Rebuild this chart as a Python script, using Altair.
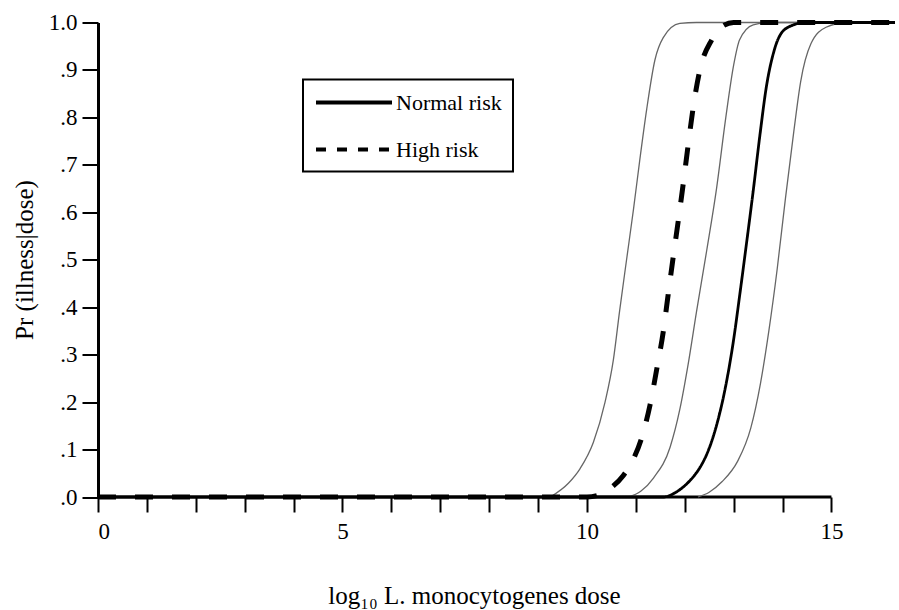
import altair as alt
import pandas as pd

# ---------------- values ----------------
# High risk (thick dashed) dose-response curve
high_x = [0.0, 10.0, 10.3, 10.5, 10.74, 10.95, 11.12, 11.29, 11.43, 11.56, 11.66, 11.76,
          11.87, 11.97, 12.07, 12.17, 12.31, 12.55, 12.72, 13.0, 16.3]
high_y = [0.0, 0.0, 0.006, 0.02, 0.045, 0.08, 0.125, 0.194, 0.271, 0.348, 0.426, 0.503,
          0.584, 0.661, 0.742, 0.819, 0.90, 0.963, 0.988, 1.0, 1.0]

# Normal risk (solid) dose-response curve
normal_x = [0.0, 11.56, 11.85, 12.11, 12.31, 12.45, 12.62, 12.82, 12.99, 13.13, 13.27,
            13.40, 13.54, 13.67, 13.84, 14.08, 14.48, 16.3]
normal_y = [0.0, 0.0, 0.012, 0.035, 0.062, 0.09, 0.14, 0.225, 0.325, 0.43, 0.54,
            0.645, 0.765, 0.865, 0.945, 0.988, 1.0, 1.0]

# Thin uncertainty-bound curves
bound_a_x = [9.25, 9.62, 9.86, 10.13, 10.37, 10.54, 10.67, 10.81, 10.95, 11.08, 11.22,
             11.39, 11.56, 11.90, 12.24, 16.3]
bound_a_y = [0.0, 0.029, 0.06, 0.115, 0.2, 0.289, 0.394, 0.50, 0.605, 0.71, 0.816,
             0.921, 0.968, 0.998, 1.0, 1.0]

bound_b_x = [10.85, 11.1, 11.36, 11.70, 11.90, 12.07, 12.24, 12.45, 12.65, 12.84, 13.0,
             13.12, 13.40, 13.74, 16.3]
bound_b_y = [0.0, 0.012, 0.04, 0.105, 0.185, 0.28, 0.39, 0.52, 0.65, 0.80, 0.91,
             0.963, 0.995, 1.0, 1.0]

bound_d_x = [12.27, 12.5, 12.76, 13.08, 13.35, 13.55, 13.72, 13.89, 14.06, 14.23, 14.37,
             14.58, 14.89, 15.30, 16.3]
bound_d_y = [0.0, 0.01, 0.032, 0.075, 0.145, 0.24, 0.35, 0.48, 0.63, 0.77, 0.875,
             0.955, 0.99, 1.0, 1.0]

series_names = ["Normal risk", "High risk"]

x_ticks = [0, 1, 2, 3, 4, 5, 6, 7, 8, 9, 10, 11, 12, 13, 14, 15]
y_ticks = [0.0, 0.05, 0.1, 0.15, 0.2, 0.25, 0.3, 0.35, 0.4, 0.45, 0.5, 0.55, 0.6,
           0.65, 0.7, 0.75, 0.8, 0.85, 0.9, 0.95, 1.0]
x_axis_span = [0, 15]
x_domain = [0, 16.3]

# ---------------- tables ----------------
main_df = pd.concat([
    pd.DataFrame({"series": "Normal risk", "x": normal_x, "y": normal_y}),
    pd.DataFrame({"series": "High risk", "x": high_x, "y": high_y}),
], ignore_index=True)

bounds_df = pd.concat([
    pd.DataFrame({"curve": "a", "x": bound_a_x, "y": bound_a_y}),
    pd.DataFrame({"curve": "b", "x": bound_b_x, "y": bound_b_y}),
    pd.DataFrame({"curve": "d", "x": bound_d_x, "y": bound_d_y}),
], ignore_index=True)

axis_df = pd.DataFrame({"x": [x_axis_span[0]], "x2": [x_axis_span[1]], "y": [0.0]})

FONT = "Liberation Serif"

x_scale = alt.Scale(domain=x_domain, nice=False, zero=False)
y_scale = alt.Scale(domain=[0, 1], nice=False)

x_axis = alt.Axis(
    values=x_ticks,
    labelExpr="datum.value % 5 === 0 ? datum.label : ''",
    domain=False, grid=False,
    tickSize=15, tickWidth=2, tickColor="black",
    labelFont=FONT, labelFontSize=23, labelColor="black", labelPadding=8,
    title="log\u2081\u2080 L. monocytogenes dose",
    titleFont=FONT, titleFontSize=25, titleFontWeight="normal", titleColor="black",
    titleX=376, titleY=106, titleAlign="center", titleBaseline="alphabetic",
)

y_axis = alt.Axis(
    values=y_ticks,
    labelExpr="datum.value === 1 ? '1.0' : (round(datum.value*100) % 10 === 0 ? '.' + round(datum.value*10) : '')",
    grid=False,
    domainWidth=3, domainColor="black",
    tickSize=16, tickWidth=2, tickColor="black",
    labelFont=FONT, labelFontSize=23, labelColor="black", labelPadding=5,
    title="Pr (illness|dose)",
    titleFont=FONT, titleFontSize=25, titleFontWeight="normal", titleColor="black",
    titleX=-66, titleY=237, titleAngle=270, titleAlign="center", titleBaseline="alphabetic",
)

bounds = alt.Chart(bounds_df).mark_line(
    color="#666666", strokeWidth=1.3, interpolate="monotone"
).encode(
    x=alt.X("x:Q", scale=x_scale, axis=x_axis),
    y=alt.Y("y:Q", scale=y_scale, axis=y_axis),
    detail="curve:N",
)

main = alt.Chart(main_df).mark_line(color="black", interpolate="monotone").encode(
    x=alt.X("x:Q", scale=x_scale),
    y=alt.Y("y:Q", scale=y_scale),
    strokeDash=alt.StrokeDash("series:N",
                              scale=alt.Scale(domain=series_names, range=[[1, 0], [18, 19]]),
                              legend=None),
    strokeWidth=alt.StrokeWidth("series:N",
                                scale=alt.Scale(domain=series_names, range=[2.8, 5]),
                                legend=None),
)

legend = alt.Legend(
    title=None,
    orient="none", legendX=205, legendY=57,
    symbolType="M-1,0H6.6", symbolSize=400, symbolStrokeWidth=4,
    symbolStrokeColor="black", symbolFillColor="transparent",
    labelFont=FONT, labelFontSize=22, labelColor="black", labelOffset=58,
    rowPadding=24, padding=11,
    strokeColor="black", fillColor="white",
)

# legend-only layer (no rows drawn): its own dash scale gives the legend's shorter dashes
legend_layer = alt.Chart(main_df).transform_filter("false").mark_line(color="black").encode(
    x=alt.X("x:Q", scale=x_scale),
    y=alt.Y("y:Q", scale=y_scale),
    strokeDash=alt.StrokeDash("series:N",
                              scale=alt.Scale(domain=series_names, range=[[1, 0], [10, 11]]),
                              legend=legend),
)

x_line = alt.Chart(axis_df).mark_rule(color="black", strokeWidth=3).encode(
    x=alt.X("x:Q", scale=x_scale),
    x2="x2:Q",
    y=alt.Y("y:Q", scale=y_scale),
)

chart = alt.layer(x_line, bounds, main, legend_layer).resolve_scale(
    strokeDash="independent"
).properties(
    width=797, height=474.5,
    autosize=alt.AutoSizeParams(type="none"),
    padding={"left": 98, "top": 22.5, "right": 4, "bottom": 113},
).configure(font=FONT).configure_view(stroke=None).configure_legend(strokeWidth=2)

chart.save("out.html", embed_options={"renderer": "svg", "actions": False})
